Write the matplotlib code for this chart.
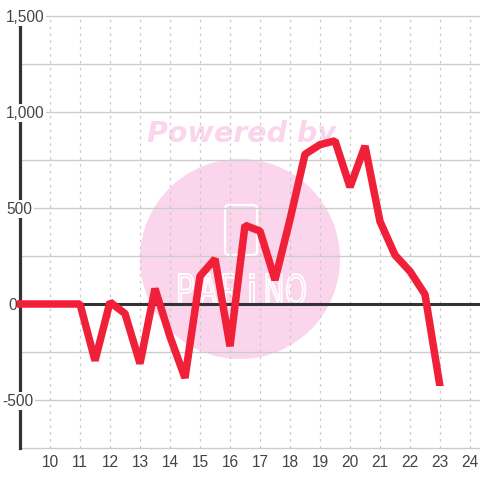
import matplotlib
matplotlib.use("Agg")
import matplotlib.pyplot as plt
from matplotlib.patches import Circle, FancyBboxPatch, Rectangle, PathPatch
from matplotlib.textpath import TextPath
from matplotlib.font_manager import FontProperties
from matplotlib.transforms import Affine2D, ScaledTranslation

hours = [9, 9.5, 10, 10.5, 11, 11.5, 12, 12.5, 13, 13.5, 14, 14.5, 15, 15.5, 16, 16.5,
         17, 17.5, 18, 18.5, 19, 19.5, 20, 20.5, 21, 21.5, 22, 22.5, 23]
values = [0, 0, 0, 0, 0, -295, 10, -50, -310, 80, -170, -385, 145, 235, -220, 410,
          380, 125, 440, 780, 830, 850, 609, 823, 430, 255, 170, 50, -430]
x_ticks = list(range(10, 25))
y_ticks = [-500, 0, 500, 1000, 1500]
y_labels = ["-500", "0", "500", "1,000", "1,500"]
y_grid = [-750, -500, -250, 0, 250, 500, 750, 1000, 1250, 1500]
logo_letters = ["P", "A", "R", "i", "N", "O"]

plt.rcParams["font.family"] = ["Liberation Sans", "DejaVu Sans"]
fig = plt.figure(figsize=(4.8, 4.8), dpi=100, facecolor="white")
ax = fig.add_axes([20 / 480, 32 / 480, 460 / 480, 432 / 480])
ax.set_xlim(9, 9 + 460 / 30)
ax.set_ylim(-750, 1500)
ax.patch.set_alpha(0)

pink = "#fbd5ec"
fig.patches.append(Circle((240 / 480, 1 - 259 / 480), 100 / 480, transform=fig.transFigure,
                          facecolor=pink, edgecolor="none", zorder=-5))
fig.text(241.5 / 480, 1 - 134 / 480, "Powered by", ha="center", va="center", color=pink,
         fontsize=20.5, fontweight="bold", fontstyle="italic", family="DejaVu Sans", zorder=-4)
fig.patches.append(FancyBboxPatch((225 / 480, 1 - 255 / 480), 32 / 480, 50 / 480,
                                  boxstyle="round,pad=0,rounding_size=0.008",
                                  transform=fig.transFigure, facecolor="none",
                                  edgecolor="white", linewidth=1.6, zorder=-3))
fp = FontProperties(family="Liberation Sans")
px_to_fig = Affine2D().scale(1 / 480, 1 / 480) + fig.transFigure
for letter, cx in zip(logo_letters, [186, 208, 231, 252, 274, 296]):
    tp = TextPath((0, 0), letter, size=44, prop=fp)
    bb = tp.get_extents()
    tr = (Affine2D().translate(-(bb.x0 + bb.x1) / 2, -bb.y0)
          .scale(0.62 if letter != "i" else 1, 31 / bb.height)
          .translate(cx, 480 - 305))
    fig.patches.append(PathPatch(tr.transform_path(tp), facecolor="none", edgecolor="white",
                                 linewidth=1.3, transform=px_to_fig, zorder=-3))

for v in y_grid:
    ax.axhline(v, color="#cccccc", lw=0.95, zorder=1, clip_on=False)
for t in x_ticks:
    ax.axvline(t, color="#c8c8c8", lw=0.9, ls=(0, (2, 3.5)), zorder=1)
ax.axhline(0, color="#333333", lw=2.2, zorder=2)
ax.axvline(9, color="#333333", lw=2.3, zorder=2, clip_on=False)

line, = ax.plot(hours, values, color="#f02038", lw=5.4, solid_joinstyle="bevel",
                solid_capstyle="projecting", zorder=4)
line.set_clip_path(Rectangle((17 / 480, 1 - 386 / 480), 463 / 480, 386 / 480, transform=fig.transFigure))

for s in ax.spines.values():
    s.set_visible(False)
ax.set_xticks(x_ticks)
ax.set_yticks([])
ax.tick_params(axis="x", length=0, pad=5, labelsize=11.2, labelcolor="#444444")
shift = ScaledTranslation(1 / 100, 0, Affine2D())
for lab in ax.get_xticklabels():
    lab.set_transform(lab.get_transform() + shift)

for v, s in zip(y_ticks, y_labels):
    x_px = 2 if s.startswith("-") else (8 if s == "0" else 6)
    ax.annotate(s, xy=(0, v), xycoords=("axes fraction", "data"),
                xytext=(x_px - 20, -1), textcoords="offset pixels",
                ha="left", va="center", color="#444444", fontsize=11.2, zorder=3,
                annotation_clip=False,
                bbox=dict(facecolor="white", edgecolor="none", pad=1.2))

fig.savefig("out.png", dpi=100)
